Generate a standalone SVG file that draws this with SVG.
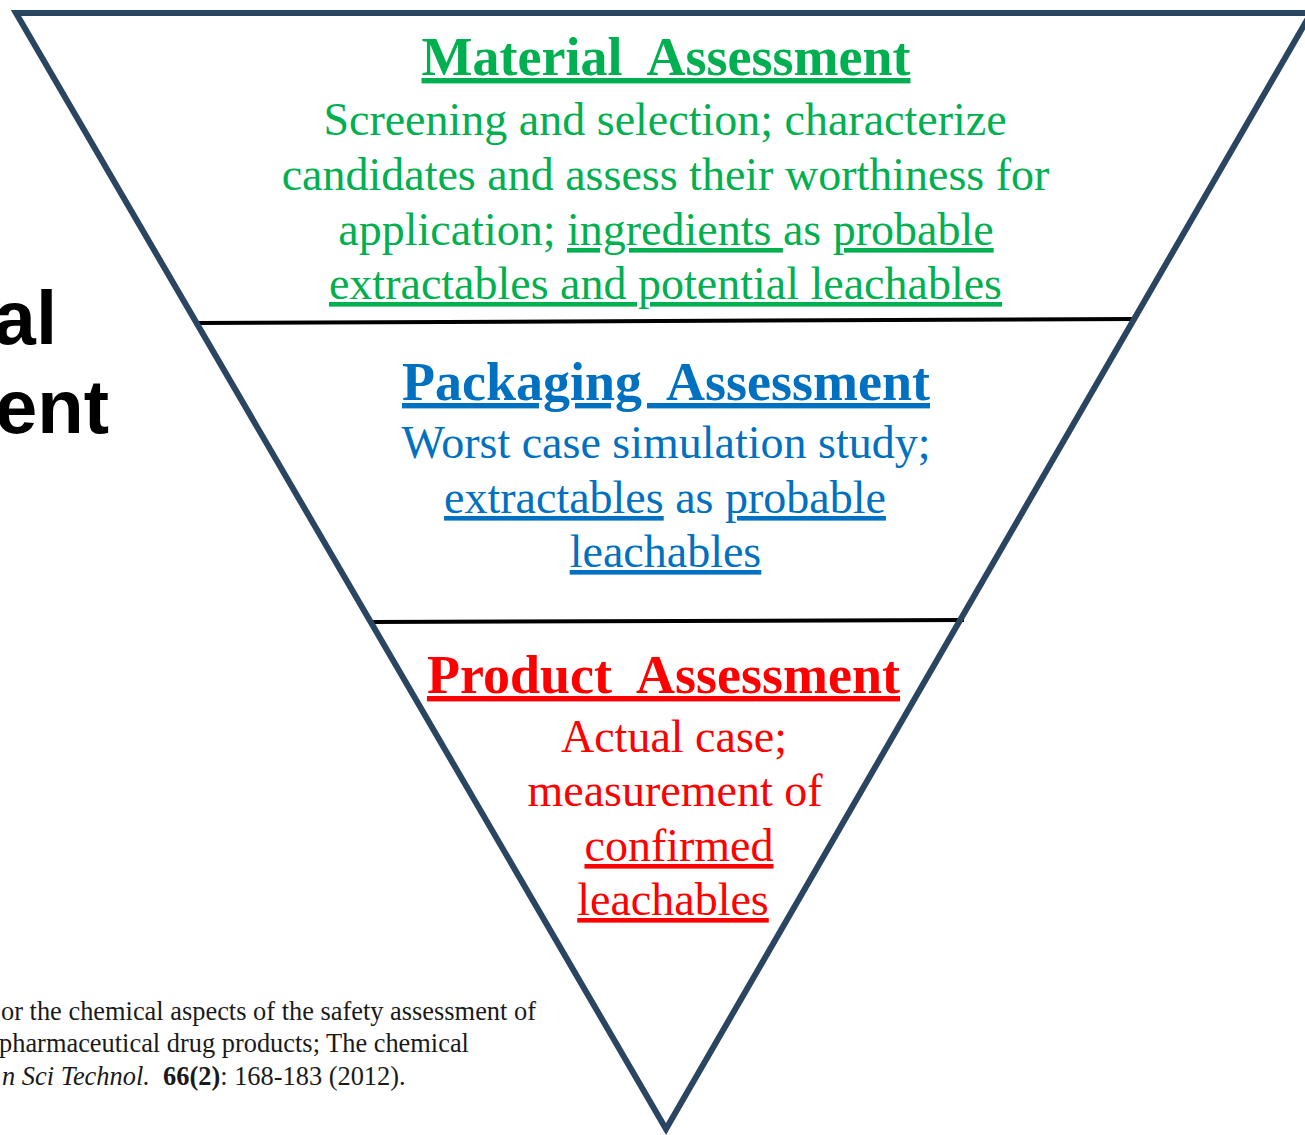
<svg xmlns="http://www.w3.org/2000/svg" width="1305" height="1135" viewBox="0 0 1305 1135">
<style>
.serif{font-family:"Liberation Serif","Times New Roman",serif;}
.title{font-family:"Liberation Serif","Times New Roman",serif;font-weight:bold;font-size:54px;text-anchor:middle;text-decoration:underline;white-space:pre;}
.body{font-family:"Liberation Serif","Times New Roman",serif;font-size:46px;text-anchor:middle;white-space:pre;}
.u{text-decoration:underline;}
.green{fill:#00B050;}
.blue{fill:#0070C0;}
.red{fill:#FF0000;}
.side{font-family:"Liberation Sans",Arial,sans-serif;font-weight:bold;font-size:76px;fill:#000;text-anchor:end;}
.cite{font-family:"Liberation Serif","Times New Roman",serif;font-size:26.4px;fill:#1a1a1a;white-space:pre;}
.div{stroke:#000;stroke-width:4;}
</style>
<rect width="1305" height="1135" fill="#fff"/>
<g id="side-label">
<text class="side" x="57" y="344">al</text>
<text class="side" x="109" y="433">ent</text>
</g>
<g id="citation">
<text class="cite" x="1" y="1020">or the chemical aspects of the safety assessment of</text>
<text class="cite" x="-1" y="1052">pharmaceutical drug products; The chemical</text>
<text class="cite" x="2" y="1085"><tspan font-style="italic">n Sci Technol.</tspan>  <tspan font-weight="bold">66(2)</tspan>: 168-183 (2012).</text>
</g>
<g id="connectors">
<line class="div" x1="196" y1="323" x2="1135" y2="319"/>
<line class="div" x1="369" y1="622" x2="964" y2="620"/>
</g>
<g id="funnel">
<polygon points="16,13 1311,13 666,1129" fill="none" stroke="#2A4561" stroke-width="6" stroke-linejoin="miter"/>
</g>
<g id="material">
<text class="title green" x="666" y="75">Material  Assessment</text>
<text class="body green" x="665" y="135">Screening and selection; characterize</text>
<text class="body green" x="665.5" y="190">candidates and assess their worthiness for</text>
<text class="body green" x="666" y="245">application; <tspan class="u">ingredients </tspan>as <tspan class="u">probable</tspan></text>
<text class="body green u" x="665.5" y="299">extractables and potential leachables</text>
</g>
<g id="packaging">
<text class="title blue" x="666" y="400">Packaging  Assessment</text>
<text class="body blue" x="666" y="458">Worst case simulation study;</text>
<text class="body blue" x="665" y="513"><tspan class="u">extractables</tspan> as <tspan class="u">probable</tspan></text>
<text class="body blue u" x="665.5" y="567">leachables</text>
</g>
<g id="product">
<text class="title red" x="663.5" y="693">Product  Assessment</text>
<text class="body red" x="674" y="752">Actual case;</text>
<text class="body red" x="675" y="806">measurement of</text>
<text class="body red u" x="679" y="861">confirmed</text>
<text class="body red u" x="673" y="915">leachables</text>
</g>
</svg>
